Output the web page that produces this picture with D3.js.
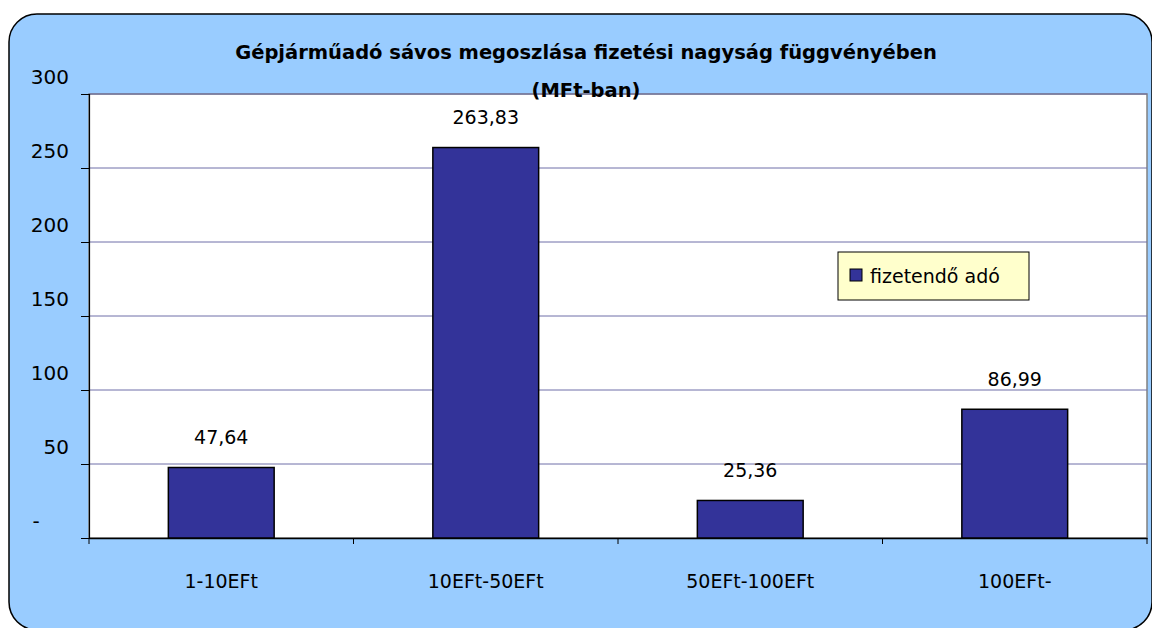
<!DOCTYPE html>
<html>
<head>
<meta charset="utf-8">
<script src="https://cdn.jsdelivr.net/npm/d3@7"></script>
<style>
  body { margin: 0; background: white; }
  svg text { font-family: "DejaVu Sans", sans-serif; fill: black; }
</style>
</head>
<body>
<div id="chart"></div>
<script>
// Adatok
const categories = ["1-10EFt", "10EFt-50EFt", "50EFt-100EFt", "100EFt-"];
const values = [47.64, 263.83, 25.36, 86.99];
const yTicks = [0, 50, 100, 150, 200, 250, 300];
const seriesName = "fizetendő adó";
const titleLines = ["Gépjárműadó sávos megoszlása fizetési nagyság függvényében", "(MFt-ban)"];

const width = 1152, height = 628;
const plot = { left: 89, right: 1147, top: 94, bottom: 538 };

const svg = d3.select("#chart")
    .append("svg")
    .attr("width", width)
    .attr("height", height);

// keret
svg.append("rect")
    .attr("x", 9).attr("y", 14)
    .attr("width", 1143).attr("height", 616)
    .attr("rx", 28).attr("ry", 28)
    .attr("fill", "#99ccff")
    .attr("stroke", "black")
    .attr("stroke-width", 1.5);

// Scale-ek
const xScale = d3.scaleBand()
    .domain(categories)
    .range([plot.left, plot.right])
    .padding(0);

const yScale = d3.scaleLinear()
    .domain([0, 300])
    .range([plot.bottom, plot.top]);

// plot terület
svg.append("rect")
    .attr("x", plot.left).attr("y", plot.top)
    .attr("width", plot.right - plot.left)
    .attr("height", plot.bottom - plot.top)
    .attr("fill", "white")
    .attr("stroke", "#808080")
    .attr("stroke-width", 1.5);

// rácsvonalak
svg.append("g")
    .selectAll("line")
    .data(yTicks.filter(d => d > 0))
    .enter()
    .append("line")
    .attr("x1", plot.left).attr("x2", plot.right)
    .attr("y1", d => yScale(d)).attr("y2", d => yScale(d))
    .attr("stroke", "#6e6ea8")
    .attr("stroke-width", 1);

// y tengely
const yAxis = d3.axisLeft(yScale)
    .tickValues(yTicks)
    .tickSize(8)
    .tickFormat("");
const gy = svg.append("g")
    .attr("transform", `translate(${plot.left},0)`)
    .call(yAxis);
gy.select(".domain").attr("stroke", "black").attr("stroke-width", 1.2);
gy.selectAll(".tick line").attr("stroke", "black");

svg.append("g")
    .selectAll("text")
    .data(yTicks)
    .enter()
    .append("text")
    .attr("x", d => d === 0 ? 36 : 69)
    .attr("y", d => yScale(d) - 17)
    .attr("dy", "0.35em")
    .attr("text-anchor", d => d === 0 ? "middle" : "end")
    .attr("font-size", 20)
    .text(d => d === 0 ? "-" : d);

// x tengely
const xAxis = d3.axisBottom(xScale).tickSize(0).tickFormat("");
const gx = svg.append("g")
    .attr("transform", `translate(0,${plot.bottom})`)
    .call(xAxis);
gx.select(".domain").attr("stroke", "black").attr("stroke-width", 1.5);

svg.append("g")
    .selectAll("line")
    .data(categories.concat([null]))
    .enter()
    .append("line")
    .attr("x1", d => d === null ? plot.right : xScale(d))
    .attr("x2", d => d === null ? plot.right : xScale(d))
    .attr("y1", plot.bottom).attr("y2", plot.bottom + 6)
    .attr("stroke", "black");

svg.append("g")
    .selectAll("text")
    .data(categories)
    .enter()
    .append("text")
    .attr("x", d => xScale(d) + xScale.bandwidth() / 2)
    .attr("y", 581)
    .attr("dy", "0.35em")
    .attr("text-anchor", "middle")
    .attr("font-size", 19)
    .text(d => d);

// oszlopok
const barW = xScale.bandwidth() * 0.4;
svg.append("g")
    .selectAll("rect")
    .data(values)
    .enter()
    .append("rect")
    .attr("x", (d, i) => xScale(categories[i]) + (xScale.bandwidth() - barW) / 2)
    .attr("y", d => yScale(d))
    .attr("width", barW)
    .attr("height", d => plot.bottom - yScale(d))
    .attr("fill", "#333399")
    .attr("stroke", "black")
    .attr("stroke-width", 1.5);

// értékcímkék
svg.append("g")
    .selectAll("text")
    .data(values)
    .enter()
    .append("text")
    .attr("x", (d, i) => xScale(categories[i]) + xScale.bandwidth() / 2)
    .attr("y", d => yScale(d) - 30)
    .attr("dy", "0.35em")
    .attr("text-anchor", "middle")
    .attr("font-size", 19)
    .text(d => d.toFixed(2).replace(".", ","));

// cím
svg.append("g")
    .selectAll("text")
    .data(titleLines)
    .enter()
    .append("text")
    .attr("x", 586)
    .attr("y", (d, i) => 52 + i * 38)
    .attr("dy", "0.35em")
    .attr("text-anchor", "middle")
    .attr("font-size", 19.5)
    .attr("font-weight", "bold")
    .text(d => d);

// jelmagyarázat
const legend = svg.append("g").attr("transform", "translate(838,252)");
legend.append("rect")
    .attr("width", 191).attr("height", 48)
    .attr("fill", "#ffffcc")
    .attr("stroke", "black")
    .attr("stroke-width", 1);
legend.append("rect")
    .attr("x", 12).attr("y", 17)
    .attr("width", 12).attr("height", 12)
    .attr("fill", "#333399")
    .attr("stroke", "black");
legend.append("text")
    .attr("x", 32).attr("y", 24)
    .attr("dy", "0.35em")
    .attr("font-size", 19)
    .text(seriesName);
</script>
</body>
</html>
